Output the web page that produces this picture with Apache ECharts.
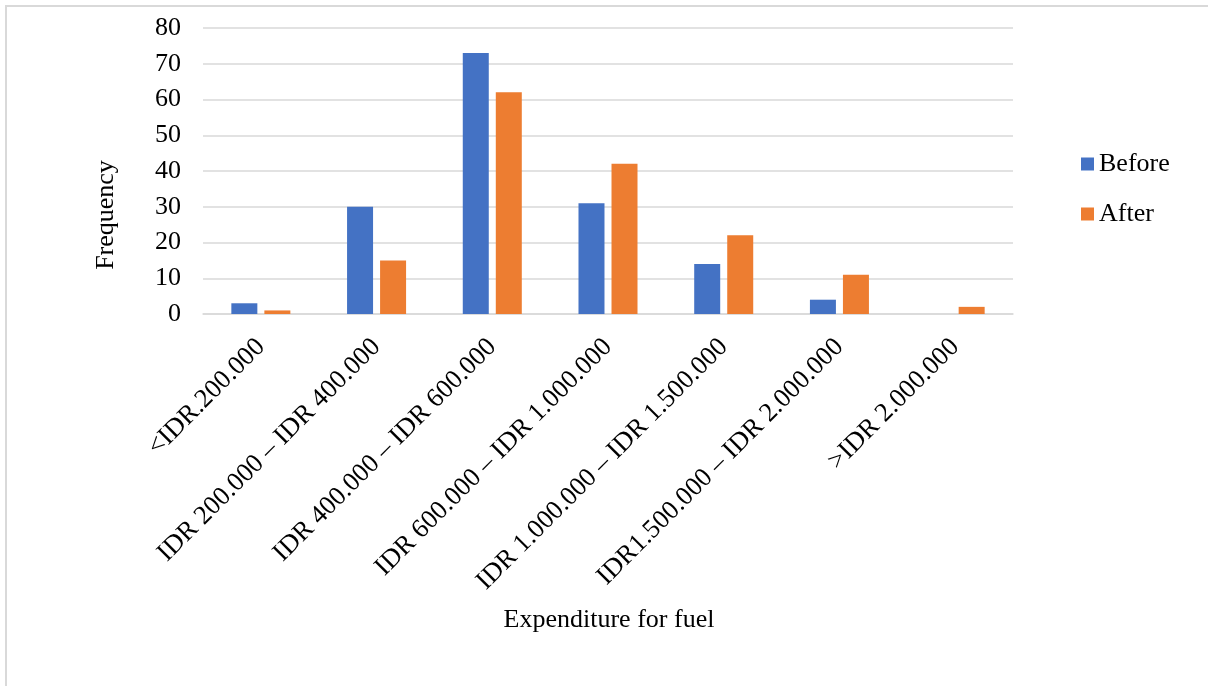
<!DOCTYPE html>
<html>
<head>
<meta charset="utf-8">
<script src="https://cdn.jsdelivr.net/npm/echarts@6/dist/echarts.min.js"></script>
<style>
  html, body { margin: 0; padding: 0; background: #ffffff; }
  #chart { width: 1208px; height: 686px; }
</style>
</head>
<body>
<div id="chart"></div>
<script>
// Fuel expenditure brackets
const categories = [
  '<IDR.200.000',
  'IDR 200.000 – IDR 400.000',
  'IDR 400.000 – IDR 600.000',
  'IDR 600.000 – IDR 1.000.000',
  'IDR 1.000.000 – IDR 1.500.000',
  'IDR1.500.000 – IDR 2.000.000',
  '>IDR 2.000.000'
];
// Number of respondents in each bracket
const beforeValues = [3, 30, 73, 31, 14, 4, 0];
const afterValues = [1, 15, 62, 42, 22, 11, 2];
const yTicks = { min: 0, max: 80, interval: 10 };

const serif = '"Liberation Serif", "Times New Roman", serif';
const chart = echarts.init(document.getElementById('chart'), null, { renderer: 'canvas' });

chart.setOption({
  backgroundColor: '#ffffff',
  animation: false,
  textStyle: { fontFamily: serif, color: '#000000' },
  grid: { left: 203, right: 195, top: 28, bottom: 372, containLabel: false },
  legend: {
    orient: 'vertical',
    left: 1076,
    top: 146,
    itemWidth: 13,
    itemHeight: 13,
    itemGap: 24,
    icon: 'rect',
    textStyle: { fontFamily: serif, fontSize: 26, color: '#000000', padding: [0, 0, 0, 0] },
    data: ['Before', 'After']
  },
  xAxis: {
    type: 'category',
    data: categories,
    axisLine: { show: true, lineStyle: { color: '#d9d9d9', width: 1.5 } },
    axisTick: { show: false },
    axisLabel: {
      interval: 0,
      rotate: 45,
      margin: 29,
      fontFamily: serif,
      fontSize: 26.5,
      color: '#000000'
    }
  },
  yAxis: {
    type: 'value',
    min: yTicks.min,
    max: yTicks.max,
    interval: yTicks.interval,
    axisLine: { show: false },
    axisTick: { show: false },
    splitLine: { lineStyle: { color: '#d9d9d9', width: 1.5 } },
    axisLabel: { margin: 22, fontFamily: serif, fontSize: 26, color: '#000000' }
  },
  series: [
    {
      name: 'Before',
      type: 'bar',
      data: beforeValues,
      barWidth: 26,
      barGap: '27%',
      itemStyle: { color: '#4472C4' }
    },
    {
      name: 'After',
      type: 'bar',
      data: afterValues,
      barWidth: 26,
      itemStyle: { color: '#ED7D31' }
    }
  ],
  graphic: [
    {
      type: 'rect',
      shape: { x: 6, y: 6, width: 1240, height: 720 },
      style: { fill: 'none', stroke: '#d9d9d9', lineWidth: 2 },
      silent: true
    },
    {
      type: 'text',
      x: 106,
      y: 215,
      rotation: Math.PI / 2,
      style: {
        text: 'Frequency',
        fontFamily: serif,
        fontSize: 26,
        fill: '#000000',
        align: 'center',
        verticalAlign: 'middle'
      }
    },
    {
      type: 'text',
      x: 609,
      y: 620,
      style: {
        text: 'Expenditure for fuel',
        fontFamily: serif,
        fontSize: 26,
        fill: '#000000',
        align: 'center',
        verticalAlign: 'middle'
      }
    }
  ]
});
</script>
</body>
</html>
